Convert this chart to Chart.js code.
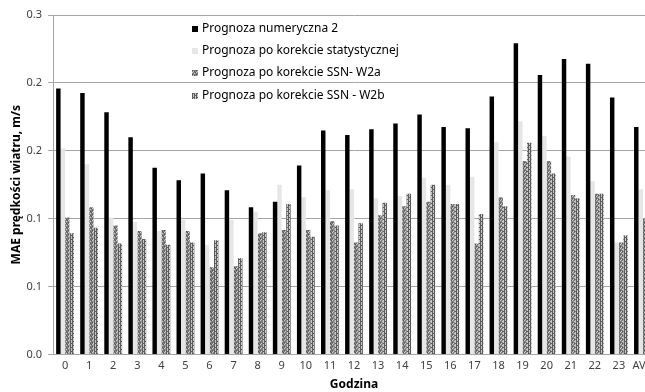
<!DOCTYPE html>
<html>
<head>
<meta charset="utf-8">
<script src="https://cdn.jsdelivr.net/npm/chart.js@4/dist/chart.umd.min.js"></script>
<style>
  html, body { margin: 0; padding: 0; background: #fff; overflow: hidden; }
  #wrap { width: 660px; height: 392px; }
</style>
</head>
<body>
<div id="wrap"><canvas id="chart" width="660" height="392"></canvas></div>
<script>
// --- Data ---
const hours = ['0','1','2','3','4','5','6','7','8','9','10','11','12','13','14','15','16','17','18','19','20','21','22','23','AVG'];
const numeric2 = [0.235,0.231,0.214,0.192,0.165,0.154,0.160,0.145,0.130,0.135,0.167,0.198,0.194,0.199,0.204,0.212,0.201,0.200,0.228,0.275,0.247,0.261,0.257,0.227,0.201];
const statCorr = [0.182,0.168,0.121,0.117,0.109,0.119,0.097,0.119,0.126,0.150,0.139,0.145,0.146,0.138,0.140,0.156,0.150,0.157,0.188,0.206,0.193,0.175,0.153,0.099,0.146];
const ssnW2a   = [0.121,0.130,0.114,0.109,0.110,0.109,0.077,0.078,0.107,0.110,0.110,0.118,0.099,0.123,0.131,0.135,0.133,0.098,0.139,0.171,0.171,0.141,0.142,0.099,0.120];
const ssnW2b   = [0.107,0.112,0.098,0.102,0.097,0.099,0.101,0.085,0.108,0.133,0.104,0.114,0.116,0.134,0.142,0.150,0.133,0.124,0.131,0.187,0.160,0.138,0.142,0.105,0.121];
const yTicks = [0, 0.06, 0.12, 0.18, 0.24, 0.3];
const seriesNames = ['Prognoza numeryczna 2', 'Prognoza po korekcie statystycznej', 'Prognoza po korekcie SSN- W2a', 'Prognoza po korekcie SSN - W2b'];

const FONT = "'Noto Sans', sans-serif";

// small fill patterns for the SSN series
function makePattern(kind) {
    const c = document.createElement('canvas');
    c.width = 4; c.height = 4;
    const g = c.getContext('2d');
    if (kind === 'a') {
        g.fillStyle = '#808080'; g.fillRect(0, 0, 4, 4);
        g.fillStyle = '#cfcfcf';
        g.fillRect(0, 0, 1, 1); g.fillRect(2, 1, 1, 1); g.fillRect(1, 3, 1, 1);
        g.fillStyle = '#555';
        g.fillRect(3, 0, 1, 1); g.fillRect(0, 2, 1, 1); g.fillRect(2, 3, 1, 1);
    } else {
        g.fillStyle = '#c8c8c8'; g.fillRect(0, 0, 4, 4);
        g.fillStyle = '#5c5c5c';
        g.fillRect(0, 0, 1, 4); g.fillRect(2, 0, 1, 4);
        g.fillRect(1, 1, 1, 1); g.fillRect(3, 3, 1, 1);
    }
    return g.createPattern(c, 'repeat');
}

const patA = makePattern('a');
const patB = makePattern('b');

// legend drawn inside the plot
const insideLegend = {
    id: 'insideLegend',
    afterDraw(chart) {
        const ctx = chart.ctx;
        const rows = [29, 51, 73, 96];
        ctx.save();
        ctx.font = '12px ' + FONT;
        ctx.textBaseline = 'middle';
        chart.data.datasets.forEach((ds, i) => {
            ctx.fillStyle = ds.backgroundColor;
            ctx.fillRect(192, rows[i] - 3, 6, 6);
            ctx.fillStyle = '#000';
            ctx.fillText(ds.label, 202, rows[i]);
        });
        ctx.restore();
    }
};

const ctx = document.getElementById('chart').getContext('2d');
new Chart(ctx, {
    type: 'bar',
    data: {
        labels: hours,
        datasets: [
            { label: seriesNames[0], data: numeric2, backgroundColor: '#000000' },
            { label: seriesNames[1], data: statCorr, backgroundColor: '#e6e6e6' },
            { label: seriesNames[2], data: ssnW2a, backgroundColor: patA },
            { label: seriesNames[3], data: ssnW2b, backgroundColor: patB }
        ]
    },
    options: {
        responsive: false,
        animation: false,
        devicePixelRatio: 1,
        datasets: { bar: { categoryPercentage: 0.74, barPercentage: 1.0 } },
        layout: { padding: { top: 15, right: 5, left: 0, bottom: 0 } },
        plugins: { legend: { display: false }, tooltip: { enabled: false } },
        scales: {
            x: {
                grid: { display: false, drawTicks: false },
                border: { color: '#a6a6a6', width: 1 },
                ticks: { color: '#404040', font: { family: FONT, size: 11 }, padding: 5, maxRotation: 0, autoSkip: false },
                title: { display: true, text: 'Godzina', color: '#000', font: { family: FONT, size: 12, weight: 'bold' }, padding: { top: 0, bottom: 0 } }
            },
            y: {
                min: 0, max: 0.3,
                afterBuildTicks: (s) => { s.ticks = yTicks.map(v => ({ value: v })); },
                afterFit: (s) => { s.width = 53; },
                grid: { color: '#a6a6a6', tickLength: 5, tickColor: '#a6a6a6' },
                border: { color: '#a6a6a6' },
                ticks: { color: '#404040', font: { family: FONT, size: 11 }, padding: 6, callback: v => v.toFixed(1) },
                title: { display: true, text: 'MAE prędkości wiatru, m/s', color: '#000', font: { family: FONT, size: 12, weight: 'bold' }, padding: { top: 9, bottom: 0 } }
            }
        }
    },
    plugins: [insideLegend]
});
</script>
</body>
</html>
